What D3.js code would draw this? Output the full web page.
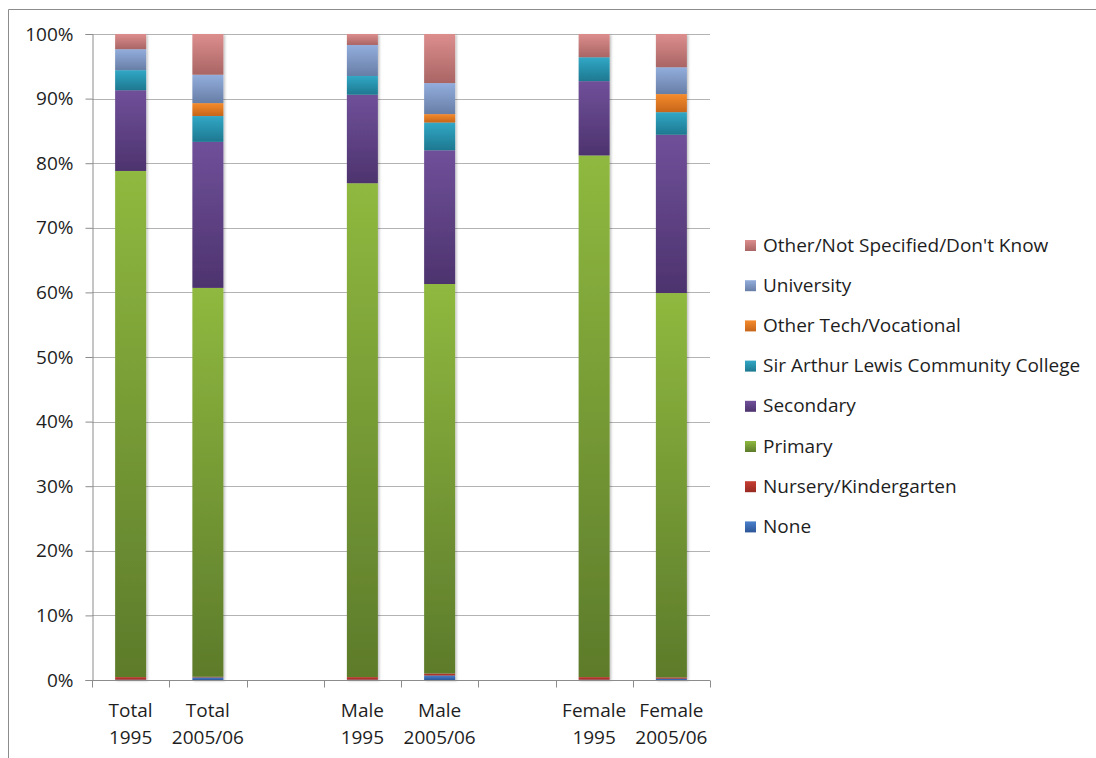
<!DOCTYPE html>
<html>
<head>
<meta charset="utf-8">
<script src="https://cdn.jsdelivr.net/npm/d3@7"></script>
<style>
  html, body { margin: 0; padding: 0; background: #fff; }
  svg { display: block; font-family: "Open Sans", "Noto Sans", sans-serif; }
</style>
</head>
<body>
<svg id="chart" width="1096" height="758"></svg>
<script>
// Category slots along the x axis; blank slots separate the groups
const slots = ["Total|1995", "Total|2005/06", "", "Male|1995", "Male|2005/06", "", "Female|1995", "Female|2005/06"];
const categories = ["Total|1995", "Total|2005/06", "Male|1995", "Male|2005/06", "Female|1995", "Female|2005/06"];

// Stacked series, bottom to top (percent of population)
const seriesNames = ["None", "Nursery/Kindergarten", "Primary", "Secondary",
  "Sir Arthur Lewis Community College", "Other Tech/Vocational", "University",
  "Other/Not Specified/Don't Know"];
const none        = [0.05, 0.4, 0.05, 0.7, 0.05, 0.2];
const nursery     = [0.4, 0.1, 0.4, 0.3, 0.4, 0.2];
const primary     = [78.35, 60.2, 76.45, 60.3, 80.75, 59.5];
const secondary   = [12.5, 22.6, 13.7, 20.7, 11.5, 24.5];
const salcc       = [3.1, 4.0, 2.9, 4.3, 3.7, 3.5];
const otherTech   = [0.0, 2.0, 0.0, 1.3, 0.0, 2.8];
const university  = [3.25, 4.4, 4.8, 4.8, 0.0, 4.15];
const otherNS     = [2.35, 6.3, 1.7, 7.6, 3.6, 5.15];
const seriesValues = [none, nursery, primary, secondary, salcc, otherTech, university, otherNS];

const yTicks = [0, 10, 20, 30, 40, 50, 60, 70, 80, 90, 100];

// Light (top) and dark (bottom) shade of each series
const shades = [
  ["#4a80cc", "#2c5597"],
  ["#c63d33", "#972a22"],
  ["#8fb93f", "#5d7b2b"],
  ["#70509a", "#4d336e"],
  ["#31a8c6", "#1e7890"],
  ["#f58b2c", "#c6651a"],
  ["#93aedd", "#677ea6"],
  ["#dc8e8d", "#a96564"]
];

const fontSize = 19;
const svg = d3.select("#chart");

// Outer chart frame
svg.append("path")
  .attr("d", "M8.5,758 L8.5,9.5 L1096,9.5")
  .attr("fill", "none").attr("stroke", "#8c8c8c").attr("stroke-width", 1);

const plot = { left: 92, right: 710, top: 34, bottom: 680 };

const x = d3.scaleBand().domain(slots.map((s, i) => i)).range([plot.left, plot.right]).paddingInner(0).paddingOuter(0);
const y = d3.scaleLinear().domain([0, 100]).range([plot.bottom, plot.top]);
const barW = 31;

// Gradients per series
const defs = svg.append("defs");
shades.forEach((c, i) => {
  const g = defs.append("linearGradient").attr("id", "g" + i)
    .attr("x1", 0).attr("y1", 0).attr("x2", 0).attr("y2", 1);
  g.append("stop").attr("offset", "0%").attr("stop-color", c[0]);
  g.append("stop").attr("offset", "100%").attr("stop-color", c[1]);
});
const sh = defs.append("filter").attr("id", "shadow").attr("x", "-20%").attr("y", "-5%").attr("width", "150%").attr("height", "110%");
sh.append("feDropShadow").attr("dx", 1.5).attr("dy", 1).attr("stdDeviation", 1).attr("flood-color", "#000").attr("flood-opacity", 0.25);

// Gridlines
svg.append("g").selectAll("line").data(yTicks.filter(t => t > 0)).join("line")
  .attr("x1", plot.left).attr("x2", plot.right)
  .attr("y1", d => Math.round(y(d)) + 0.5).attr("y2", d => Math.round(y(d)) + 0.5)
  .attr("stroke", "#b3b3b3").attr("stroke-width", 1);

// Y axis
const yAxis = svg.append("g").attr("transform", `translate(${plot.left + 0.5},0)`)
  .call(d3.axisLeft(y).tickValues(yTicks).tickFormat(d => d + "%").tickSize(7).tickPadding(12));
yAxis.select(".domain").attr("stroke", "#8c8c8c");
yAxis.selectAll(".tick line").attr("stroke", "#8c8c8c");
yAxis.selectAll("text").attr("font-size", fontSize).attr("fill", "#1e1e1e")
  .attr("font-family", "'Open Sans', sans-serif");

// Stacked bars
const rows = categories.map((c, ci) => {
  const r = { cat: c };
  seriesNames.forEach((s, si) => r[s] = seriesValues[si][ci]);
  return r;
});
const stacked = d3.stack().keys(seriesNames)(rows);
const bars = svg.append("g").attr("filter", "url(#shadow)");
stacked.forEach((layer, si) => {
  bars.append("g").attr("fill", `url(#g${si})`)
    .selectAll("rect").data(layer.filter(d => d[1] - d[0] > 0)).join("rect")
    .attr("x", d => x(slots.indexOf(d.data.cat)) + (x.bandwidth() - barW) / 2)
    .attr("width", barW)
    .attr("y", d => y(d[1]))
    .attr("height", d => y(d[0]) - y(d[1]));
});

// X axis
const xAxis = svg.append("g").attr("transform", `translate(0,${plot.bottom + 0.5})`);
xAxis.append("line").attr("x1", plot.left).attr("x2", plot.right).attr("stroke", "#8c8c8c");
const boundaries = d3.range(slots.length + 1).map(i => plot.left + i * x.bandwidth());
xAxis.selectAll("line.tick").data(boundaries).join("line").attr("class", "tick")
  .attr("x1", d => Math.round(d) + 0.5).attr("x2", d => Math.round(d) + 0.5)
  .attr("y1", 0).attr("y2", 7).attr("stroke", "#8c8c8c");
const lbl = xAxis.selectAll("text").data(slots.map((s, i) => ({ s, i })).filter(d => d.s)).join("text")
  .attr("x", d => x(d.i) + x.bandwidth() / 2)
  .attr("text-anchor", "middle").attr("font-size", fontSize).attr("fill", "#1e1e1e");
lbl.append("tspan").attr("x", d => x(d.i) + x.bandwidth() / 2).attr("y", 36).text(d => d.s.split("|")[0]);
lbl.append("tspan").attr("x", d => x(d.i) + x.bandwidth() / 2).attr("y", 63).text(d => d.s.split("|")[1]);

// Legend, top entry is the top of the stack
const legendItems = seriesNames.map((n, i) => ({ n, i })).reverse();
const legend = svg.append("g").attr("transform", "translate(745,245)");
const li = legend.selectAll("g").data(legendItems).join("g")
  .attr("transform", (d, k) => `translate(0,${k * 40.2})`);
li.append("rect").attr("x", 0).attr("y", -5).attr("width", 11).attr("height", 11)
  .attr("fill", d => `url(#g${d.i})`);
li.append("text").attr("x", 18).attr("y", 0).attr("dy", "0.35em")
  .attr("font-size", fontSize).attr("fill", "#1e1e1e").text(d => d.n);
</script>
</body>
</html>
